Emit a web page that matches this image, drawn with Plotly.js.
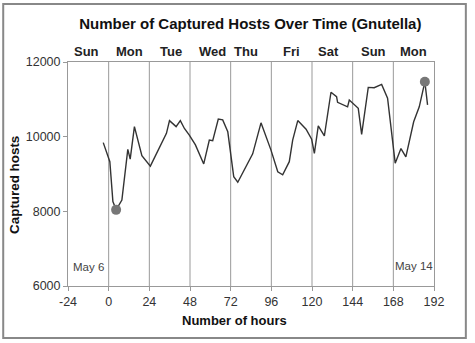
<!DOCTYPE html>
<html>
<head>
<meta charset="utf-8">
<script src="https://cdn.plot.ly/plotly-3.0.1.min.js"></script>
<style>
  html, body { margin: 0; padding: 0; background: #fff; }
  #chart { width: 475px; height: 343px; }
</style>
</head>
<body>
<div id="chart"></div>
<script>
// hours since start (May 6, 00:00) and captured hosts
const hours = [
  -3.2, 0.7, 2.5, 4.4, 7.8, 11.3, 12.7, 15.2, 19.6, 24.6,
  34.1, 35.9, 39.8, 42.3, 44.7, 47.6, 51.2, 56.1, 59.4, 61.4,
  64.7, 67.3, 70.3, 73.8, 76.2, 85.0, 89.9, 95.8, 99.8, 102.7,
  106.6, 108.6, 111.6, 116.5, 119.8, 121.4, 123.7, 127.3, 131.2, 134.5,
  135.1, 141.0, 142.0, 144.6, 147.3, 149.3, 153.2, 156.7, 161.1, 164.6,
  169.1, 172.5, 175.4, 180.0, 183.3, 186.6, 188.2
];
const hosts = [
  9840, 9330, 8260, 8040, 8300, 9660, 9400, 10270, 9490, 9210,
  10090, 10430, 10270, 10430, 10220, 10040, 9780, 9270, 9910, 9890,
  10470, 10450, 10130, 8930, 8780, 9540, 10370, 9640, 9060, 8980,
  9330, 9910, 10430, 10200, 9930, 9550, 10290, 10020, 11190, 11070,
  10920, 10800, 10980, 10880, 10760, 10060, 11320, 11310, 11400, 11030,
  9290, 9680, 9460, 10400, 10800, 11470, 10850
];
// min and max points get a dot
const markedIdx = [3, 55];

const dayLabels = ["Sun", "Mon", "Tue", "Wed", "Thu", "Fri", "Sat", "Sun", "Mon"];
const dayHours = [-13, 12, 36.5, 61, 81, 108, 130, 156, 180];

const xTicks = [-24, 0, 24, 48, 72, 96, 120, 144, 168, 192];
const yTicks = [6000, 8000, 10000, 12000];
const gridHours = [0, 24, 48, 72, 96, 120, 144, 168];

const dateNotes = [
  { text: "May 6", x: -12, y: 6520 },
  { text: "May 14", x: 180, y: 6540 },
];

const font = '"Liberation Sans", Arial, sans-serif';

const traces = [
  {
    x: hours,
    y: hosts,
    type: "scatter",
    mode: "lines",
    line: { color: "#333", width: 1.4 },
    hoverinfo: "x+y",
  },
  {
    x: markedIdx.map((i) => hours[i]),
    y: markedIdx.map((i) => hosts[i]),
    type: "scatter",
    mode: "markers",
    marker: { color: "#777", size: 10 },
    hoverinfo: "x+y",
  },
];

const shapes = gridHours.map((h) => ({
  type: "line",
  xref: "x",
  yref: "paper",
  x0: h,
  x1: h,
  y0: 0,
  y1: 1,
  line: { color: "#999", width: 1 },
  layer: "below",
}));

// outer frame of the picture
shapes.push({
  type: "rect",
  xref: "paper",
  yref: "paper",
  x0: -0.177,
  x1: 1.087,
  y0: -0.232,
  y1: 1.259,
  line: { color: "#888", width: 2 },
});

const annotations = [];
dayLabels.forEach((d, i) => {
  annotations.push({
    x: dayHours[i],
    xref: "x",
    y: 1.046,
    yref: "paper",
    xanchor: "center",
    yanchor: "middle",
    text: "<b>" + d + "</b>",
    showarrow: false,
    font: { family: font, size: 13, color: "#222" },
  });
});
dateNotes.forEach((n) => {
  annotations.push({
    x: n.x,
    y: n.y,
    xref: "x",
    yref: "y",
    xanchor: "center",
    yanchor: "middle",
    text: n.text,
    showarrow: false,
    font: { family: font, size: 11.5, color: "#444" },
  });
});
annotations.push({
  x: 0.455,
  xref: "paper",
  y: -0.156,
  yref: "paper",
  xanchor: "center",
  yanchor: "middle",
  text: "<b>Number of hours</b>",
  showarrow: false,
  font: { family: font, size: 13, color: "#111" },
});
annotations.push({
  x: -0.145,
  xref: "paper",
  y: 0.451,
  yref: "paper",
  xanchor: "center",
  yanchor: "middle",
  text: "<b>Captured hosts</b>",
  textangle: -90,
  showarrow: false,
  font: { family: font, size: 13.4, color: "#111" },
});

const layout = {
  width: 475,
  height: 343,
  margin: { l: 68, r: 41, t: 62, b: 57 },
  paper_bgcolor: "white",
  plot_bgcolor: "white",
  showlegend: false,
  title: {
    text: "<b>Number of Captured Hosts Over Time (Gnutella)</b>",
    font: { family: font, size: 15, color: "#111" },
    x: 0.527,
    xanchor: "center",
    y: 0.93,
    yanchor: "middle",
  },
  xaxis: {
    range: [-24, 192],
    tickvals: xTicks,
    ticktext: xTicks.map(String),
    ticks: "outside",
    ticklen: 4,
    tickcolor: "#999",
    showgrid: false,
    zeroline: false,
    showline: true,
    mirror: true,
    linecolor: "#999",
    linewidth: 1,
    tickfont: { family: font, size: 12.5, color: "#333" },
  },
  yaxis: {
    range: [6000, 12000],
    tickvals: yTicks,
    ticktext: yTicks.map(String),
    ticks: "outside",
    ticklen: 4,
    tickcolor: "#999",
    showgrid: false,
    zeroline: false,
    showline: true,
    mirror: true,
    linecolor: "#999",
    linewidth: 1,
    tickfont: { family: font, size: 12.5, color: "#333" },
  },
  shapes: shapes,
  annotations: annotations,
};

Plotly.newPlot("chart", traces, layout, { displayModeBar: false, staticPlot: true });
</script>
</body>
</html>
